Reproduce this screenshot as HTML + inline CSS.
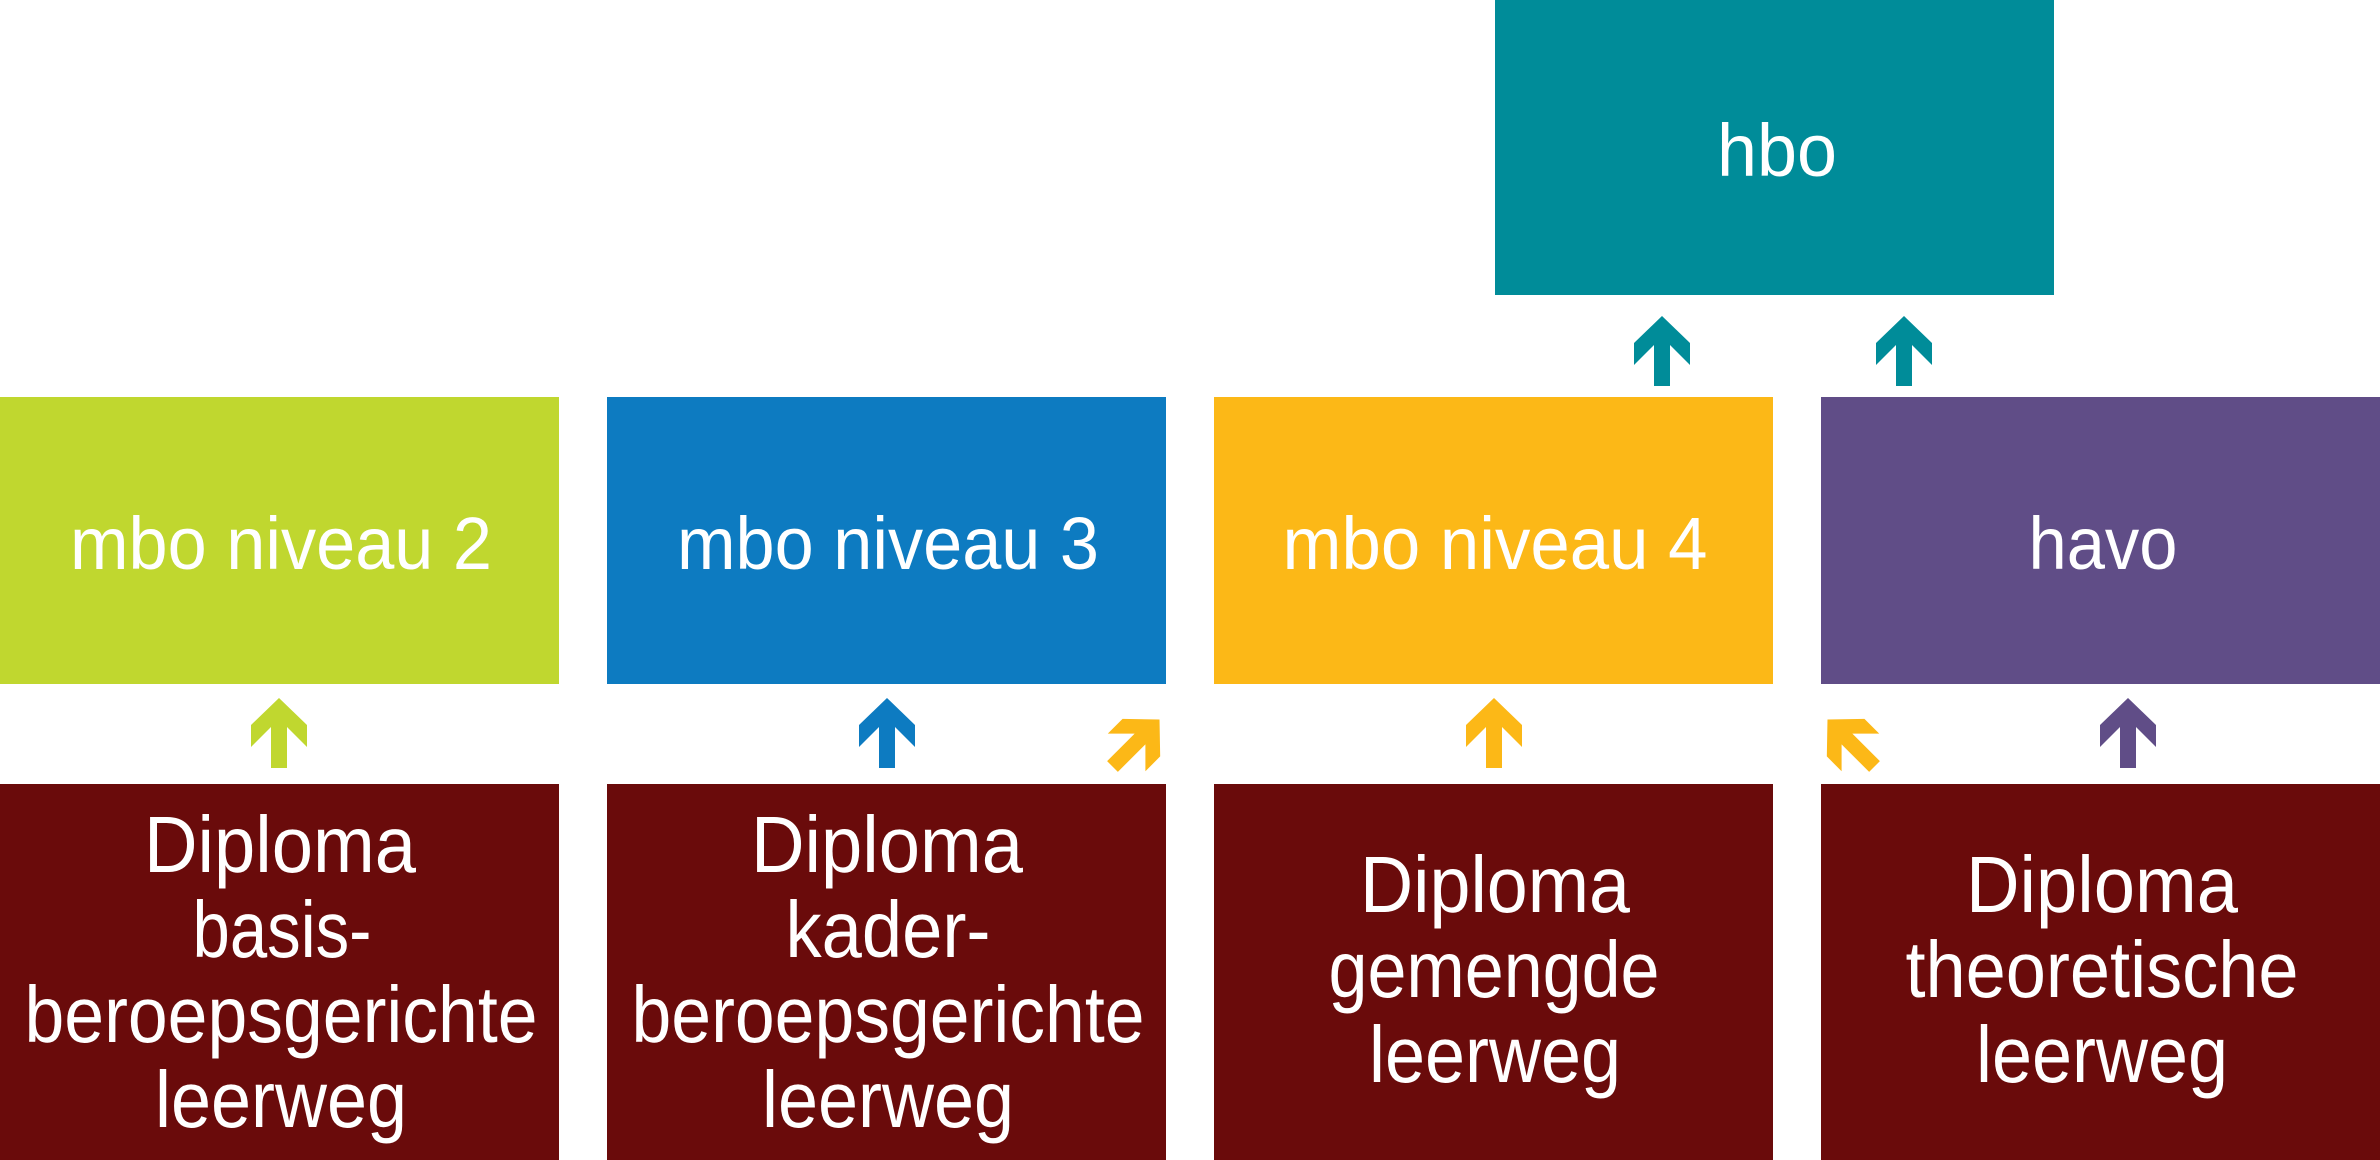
<!DOCTYPE html>
<html><head><meta charset="utf-8"><style>html,body{margin:0;padding:0;background:#fff;}svg{display:block;}</style></head>
<body>
<svg width="2380" height="1160" viewBox="0 0 2380 1160" xmlns="http://www.w3.org/2000/svg" font-family="'Liberation Sans', sans-serif" fill="#fff">
<defs>
<path id="ar" d="M0,-35 L28,-8 L28,14 L8,-6 L8,35 L-8,35 L-8,-6 L-28,14 L-28,-8 Z"/>
<clipPath id="c1"><rect x="1090" y="690" width="76" height="90"/></clipPath>
<clipPath id="c2"><rect x="1821" y="690" width="76" height="90"/></clipPath>
</defs>
<rect x="1495" y="0" width="559" height="295" fill="#008c99"/>
<rect x="0" y="397" width="559" height="287" fill="#c0d72f"/>
<rect x="607" y="397" width="559" height="287" fill="#0d7bc1"/>
<rect x="1214" y="397" width="559" height="287" fill="#fcb817"/>
<rect x="1821" y="397" width="559" height="287" fill="#604d87"/>
<rect x="0" y="784" width="559" height="376" fill="#6a0b0b"/>
<rect x="607" y="784" width="559" height="376" fill="#6a0b0b"/>
<rect x="1214" y="784" width="559" height="376" fill="#6a0b0b"/>
<rect x="1821" y="784" width="559" height="376" fill="#6a0b0b"/>

<use href="#ar" x="1662" y="351" fill="#008c99"/>
<use href="#ar" x="1904" y="351" fill="#008c99"/>
<use href="#ar" x="279" y="733" fill="#c0d72f"/>
<use href="#ar" x="887" y="733" fill="#0d7bc1"/>
<use href="#ar" x="1494" y="733" fill="#fcb817"/>
<use href="#ar" x="2128" y="733" fill="#604d87"/>
<g clip-path="url(#c1)"><use href="#ar" transform="translate(1136,743) rotate(45) scale(0.95)" fill="#fcb817"/></g>
<g clip-path="url(#c2)"><use href="#ar" transform="translate(1851,743) rotate(-45) scale(0.95)" fill="#fcb817"/></g>

<g font-size="74" text-anchor="middle" lengthAdjust="spacingAndGlyphs">
<text x="1777" y="176" textLength="120" lengthAdjust="spacingAndGlyphs">hbo</text>
<text x="281" y="569" textLength="422" lengthAdjust="spacingAndGlyphs">mbo niveau 2</text>
<text x="888" y="569" textLength="422" lengthAdjust="spacingAndGlyphs">mbo niveau 3</text>
<text x="1495" y="569" textLength="425" lengthAdjust="spacingAndGlyphs">mbo niveau 4</text>
<text x="2103" y="569" textLength="149" lengthAdjust="spacingAndGlyphs">havo</text>
</g>
<g font-size="80" text-anchor="middle">
<text x="280" y="872" textLength="272" lengthAdjust="spacingAndGlyphs">Diploma</text>
<text x="282" y="957" textLength="179" lengthAdjust="spacingAndGlyphs">basis-</text>
<text x="281" y="1042" textLength="513" lengthAdjust="spacingAndGlyphs">beroepsgerichte</text>
<text x="281" y="1127" textLength="252" lengthAdjust="spacingAndGlyphs">leerweg</text>

<text x="887" y="872" textLength="272" lengthAdjust="spacingAndGlyphs">Diploma</text>
<text x="888" y="957" textLength="205" lengthAdjust="spacingAndGlyphs">kader-</text>
<text x="888" y="1042" textLength="513" lengthAdjust="spacingAndGlyphs">beroepsgerichte</text>
<text x="888" y="1127" textLength="252" lengthAdjust="spacingAndGlyphs">leerweg</text>

<text x="1495" y="912" textLength="270" lengthAdjust="spacingAndGlyphs">Diploma</text>
<text x="1494" y="997" textLength="331" lengthAdjust="spacingAndGlyphs">gemengde</text>
<text x="1495" y="1082" textLength="252" lengthAdjust="spacingAndGlyphs">leerweg</text>

<text x="2102" y="912" textLength="272" lengthAdjust="spacingAndGlyphs">Diploma</text>
<text x="2102" y="997" textLength="393" lengthAdjust="spacingAndGlyphs">theoretische</text>
<text x="2102" y="1082" textLength="252" lengthAdjust="spacingAndGlyphs">leerweg</text>
</g>
</svg>
</body></html>
